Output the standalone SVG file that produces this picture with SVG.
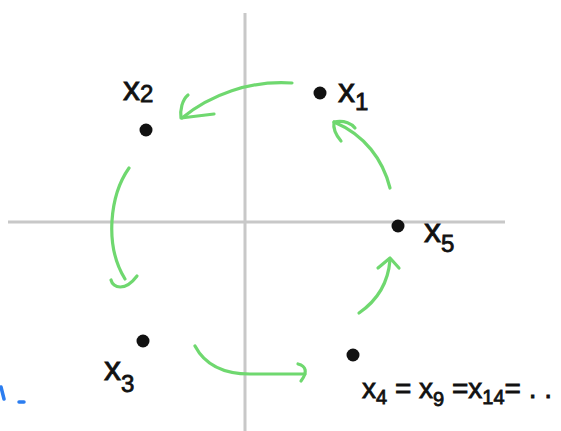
<svg xmlns="http://www.w3.org/2000/svg" width="561" height="431" viewBox="0 0 561 431">
<style>
.axis{stroke:#c8c8c8;stroke-width:3;fill:none}
.arr{stroke:#6fd86f;stroke-width:3.2;fill:none;stroke-linecap:round;stroke-linejoin:round}
.dot{fill:#111}
.lbl{font-family:"Liberation Sans",Arial,sans-serif;font-size:34px;fill:#111;stroke:#111;stroke-width:0.8}
.sub{font-size:24px}
.small{font-size:28px}
.small .sub{font-size:20px}
.blue{stroke:#2b7df0;stroke-width:3.5;fill:none;stroke-linecap:round}
</style>
<rect width="561" height="431" fill="#fff"/>
<g id="axes">
<line class="axis" x1="245" y1="13" x2="245" y2="431"/>
<line class="axis" x1="8" y1="222" x2="505" y2="222"/>
</g>
<g id="connectors">
<path class="arr" d="M292 83 C250 80 210 95 182 118"/>
<path class="arr" d="M188 95 C182 100 180 110 181 118 L214 114"/>
<path class="arr" d="M129 168 C110 195 104 245 125 279"/>
<path class="arr" d="M111 280 C113 288 125 292 137 276"/>
<path class="arr" d="M195 346 C205 365 225 374 250 374 L305 374"/>
<path class="arr" d="M298 364 C306 366 308 372 301 381"/>
<path class="arr" d="M359 313 C375 302 388 285 390 260"/>
<path class="arr" d="M378 268 L390 258 L399 268"/>
<path class="arr" d="M390 188 C383 160 365 135 334 122"/>
<path class="arr" d="M341 141 C335 134 333 128 334 122 C345 120 352 124 355 128"/>
</g>
<g id="x1"><circle class="dot" cx="320" cy="93" r="6.5"/><text class="lbl" x="338" y="102">x<tspan class="sub" dy="8">1</tspan></text></g>
<g id="x2"><circle class="dot" cx="146" cy="130" r="6.5"/><text class="lbl" x="123" y="100">x<tspan class="sub" dy="2">2</tspan></text></g>
<g id="x5"><circle class="dot" cx="398" cy="226" r="6.5"/><text class="lbl" x="424" y="242">x<tspan class="sub" dy="10">5</tspan></text></g>
<g id="x3"><circle class="dot" cx="143" cy="341" r="6.5"/><text class="lbl" x="104" y="380">x<tspan class="sub" dy="12">3</tspan></text></g>
<g id="x4"><circle class="dot" cx="353" cy="355" r="6.5"/><text class="lbl small" x="362" y="398">x<tspan class="sub" dy="6">4</tspan><tspan dy="-6"> = x</tspan><tspan class="sub" dy="8">9</tspan><tspan dy="-8"> =x</tspan><tspan class="sub" dy="6">14</tspan><tspan dy="-6">= . .</tspan></text></g>
<g id="blue-mark">
<path class="blue" d="M1 387 L4 399"/>
<path class="blue" d="M19 402 L24 402"/>
</g>
</svg>
